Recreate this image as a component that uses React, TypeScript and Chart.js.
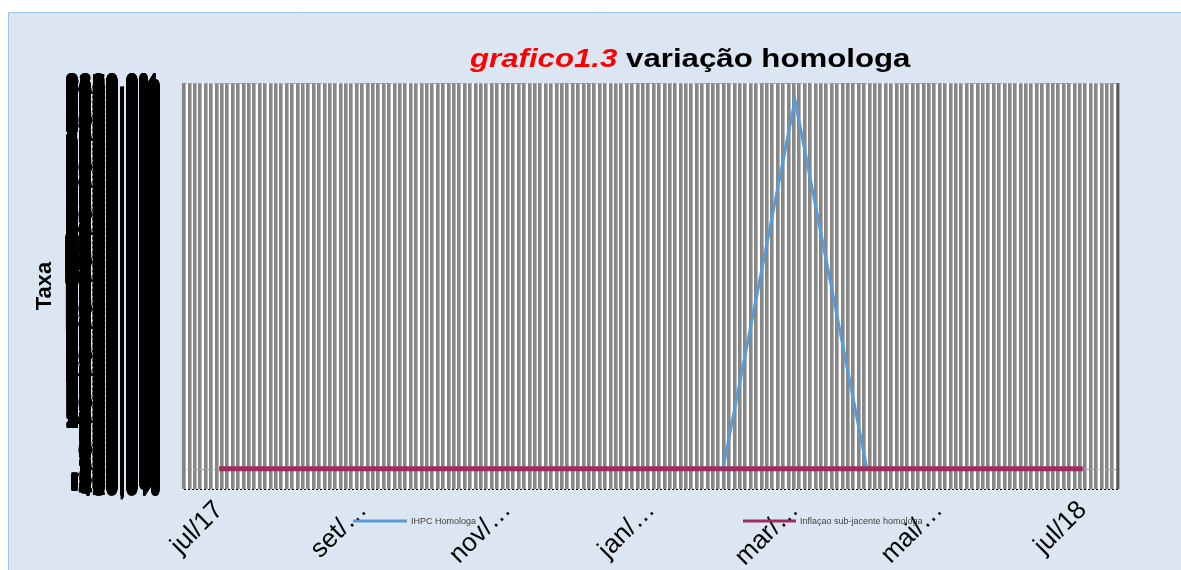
import React, { useEffect, useRef } from "react";
import { Chart, registerables } from "chart.js";

Chart.register(...registerables);

const months = ["jul/17", "ago/17", "set/17", "out/17", "nov/17", "dez/17", "jan/18", "fev/18", "mar/18", "abr/18", "mai/18", "jun/18", "jul/18"];
const ihpcHomologa = [0, 0, 0, 0, 0, 0, 0, 0, 7840, 0, 0, 0, 0];
const inflacaoSubjacente = [0, 0, 0, 0, 0, 0, 0, 0, 0, 0, 0, 0, 0];
const xTickLabels = ["jul/17", "set/…", "nov/…", "jan/…", "mar/…", "mai/…", "jul/18"];
const xTickPositions = [0, 2, 4, 6, 8, 10, 12];
const yMin = -430;
const yMax = 8200;
const yStep = 10;
const xMin = -0.49;
const xMax = 12.49;
const gridStep = 0.075;

const seriesNames = ["IHPC Homologa", "Inflaçao sub-jacente homologa"];
const seriesColors = ["#5b9bd5", "#9b2d5f"];

const decorPlugin = {
  id: "decor",
  beforeDraw(chart: any) {
    const ctx = chart.ctx;
    const { left, right, top, bottom } = chart.chartArea;
    ctx.save();
    ctx.fillStyle = "#ffffff";
    ctx.fillRect(0, 0, chart.width, chart.height);
    ctx.fillStyle = "#dce6f2";
    ctx.fillRect(8, 12, chart.width - 8, chart.height - 12);
    ctx.strokeStyle = "#9dc3e6";
    ctx.lineWidth = 1;
    ctx.beginPath();
    ctx.moveTo(8.5, chart.height);
    ctx.lineTo(8.5, 12.5);
    ctx.lineTo(chart.width, 12.5);
    ctx.stroke();
    ctx.fillStyle = "#ffffff";
    ctx.fillRect(left, top, right - left, bottom - top);
    ctx.restore();
  },
  beforeDatasetsDraw(chart: any) {
    const ctx = chart.ctx;
    const { left, right } = chart.chartArea;
    const y0 = Math.round(chart.scales.y.getPixelForValue(0)) + 0.5;
    ctx.save();
    ctx.strokeStyle = "#a0a0a0";
    ctx.lineWidth = 1;
    ctx.setLineDash([2, 1]);
    ctx.beginPath();
    ctx.moveTo(left, y0);
    ctx.lineTo(right, y0);
    ctx.stroke();
    ctx.restore();
  },
  afterDraw(chart: any) {
    const ctx = chart.ctx;
    const { left, right, top, bottom } = chart.chartArea;
    ctx.save();
    ctx.lineWidth = 1;
    ctx.strokeStyle = "#a6a6a6";
    ctx.setLineDash([3, 2]);
    ctx.beginPath();
    ctx.moveTo(left, top + 0.5);
    ctx.lineTo(right, top + 0.5);
    ctx.stroke();
    ctx.strokeStyle = "#000000";
    ctx.setLineDash([2, 2]);
    ctx.beginPath();
    ctx.moveTo(left, bottom + 0.5);
    ctx.lineTo(right, bottom + 0.5);
    ctx.stroke();
    ctx.setLineDash([]);
    ctx.strokeStyle = "#595959";
    ctx.lineWidth = 2;
    ctx.beginPath();
    ctx.moveTo(right, top);
    ctx.lineTo(right, bottom);
    ctx.stroke();
    ctx.strokeStyle = "#808080";
    ctx.lineWidth = 1;
    ctx.beginPath();
    ctx.moveTo(left + 0.5, top);
    ctx.lineTo(left + 0.5, bottom);
    ctx.stroke();

    // title
    ctx.save();
    ctx.translate(470, 67);
    ctx.scale(1.3, 1.05);
    ctx.textBaseline = "alphabetic";
    ctx.textAlign = "left";
    ctx.font = "italic bold 24px 'Liberation Sans', Arial, sans-serif";
    ctx.fillStyle = "#ff0000";
    const part1 = "grafico1.3";
    ctx.fillText(part1, 0, 0);
    const w1 = ctx.measureText(part1 + " ").width;
    ctx.font = "bold 24px 'Liberation Sans', Arial, sans-serif";
    ctx.fillStyle = "#000000";
    ctx.fillText("variação homologa", w1, 0);
    ctx.restore();

    // legend
    const legendItems = [
      { x1: 353, x2: 407, lw: 3 },
      { x1: 743, x2: 796, lw: 3 },
    ];
    ctx.font = "9px 'Liberation Sans', Arial, sans-serif";
    ctx.textBaseline = "middle";
    ctx.textAlign = "left";
    legendItems.forEach((it, i) => {
      ctx.strokeStyle = seriesColors[i];
      ctx.lineWidth = it.lw;
      ctx.beginPath();
      ctx.moveTo(it.x1, 521);
      ctx.lineTo(it.x2, 521);
      ctx.stroke();
      ctx.fillStyle = "#404040";
      ctx.fillText(seriesNames[i], it.x2 + 4, 522);
    });
    ctx.restore();
  },
};

export default function App() {
  const canvasRef = useRef<HTMLCanvasElement | null>(null);

  useEffect(() => {
    if (!canvasRef.current) return;
    const chart = new Chart(canvasRef.current, {
      type: "line",
      data: {
        datasets: [
          {
            label: seriesNames[1],
            data: inflacaoSubjacente.map((v, i) => ({ x: i, y: v })),
            borderColor: seriesColors[1],
            backgroundColor: seriesColors[1],
            borderWidth: 5,
            pointRadius: 0,
            tension: 0,
            xAxisID: "x",
            borderCapStyle: "butt",
          },
          {
            label: seriesNames[0],
            data: ihpcHomologa.map((v, i) => ({ x: i, y: v })),
            borderColor: seriesColors[0],
            backgroundColor: seriesColors[0],
            borderWidth: 3,
            pointRadius: 0,
            tension: 0,
            xAxisID: "x",
          },
        ],
      },
      options: {
        animation: false,
        responsive: false,
        devicePixelRatio: 1,
        layout: { padding: { left: 28, top: 83, right: 63, bottom: 0 } },
        plugins: {
          legend: { display: false },
          title: { display: false },
          tooltip: { enabled: false },
        },
        scales: {
          x: {
            type: "linear",
            position: "bottom",
            min: xMin,
            max: xMax,
            grid: { display: false, drawTicks: false },
            border: { display: false },
            afterBuildTicks: (scale: any) => {
              scale.ticks = xTickPositions.map((v) => ({ value: v }));
            },
            afterFit: (scale: any) => {
              scale.height = 81;
            },
            ticks: {
              autoSkip: false,
              maxRotation: 45,
              minRotation: 45,
              padding: 6,
              color: "#000000",
              font: { family: "'Liberation Sans', Arial, sans-serif", size: 26 },
              callback: (_v: any, i: number) => xTickLabels[i],
            },
          },
          xg: {
            type: "linear",
            position: "bottom",
            min: xMin,
            max: xMax,
            grid: { display: true, drawTicks: false, color: "#878787", lineWidth: 3.6 },
            border: { display: false },
            afterBuildTicks: (scale: any) => {
              const t: any[] = [];
              for (let k = 0; xMin + k * gridStep <= xMax + 1e-9; k++) {
                t.push({ value: xMin + k * gridStep });
              }
              scale.ticks = t;
            },
            afterFit: (scale: any) => {
              scale.height = 0;
            },
            ticks: { display: false, autoSkip: false },
          },
          y: {
            type: "linear",
            min: yMin,
            max: yMax,
            grid: { display: false, drawTicks: false },
            border: { display: false },
            afterFit: (scale: any) => {
              scale.width = 184 - 28;
            },
            title: {
              display: true,
              text: "Taxa",
              color: "#000000",
              font: { family: "'Liberation Sans', Arial, sans-serif", size: 22, weight: "bold" },
              padding: { top: 4, bottom: 4 },
            },
            ticks: {
              stepSize: yStep,
              autoSkip: false,
              padding: 24,
              color: "#000000",
              font: { family: "'Liberation Sans', Arial, sans-serif", size: 24, weight: "bold" },
              callback: (v: any) => Number(v).toFixed(1).replace(".", ",") + "%",
            },
          },
        },
      },
      plugins: [decorPlugin],
    } as any);
    return () => chart.destroy();
  }, []);

  return (
    <div style={{ position: "fixed", left: 0, top: 0, width: 1181, height: 570 }}>
      <canvas ref={canvasRef} width={1181} height={570} style={{ display: "block" }} />
    </div>
  );
}
